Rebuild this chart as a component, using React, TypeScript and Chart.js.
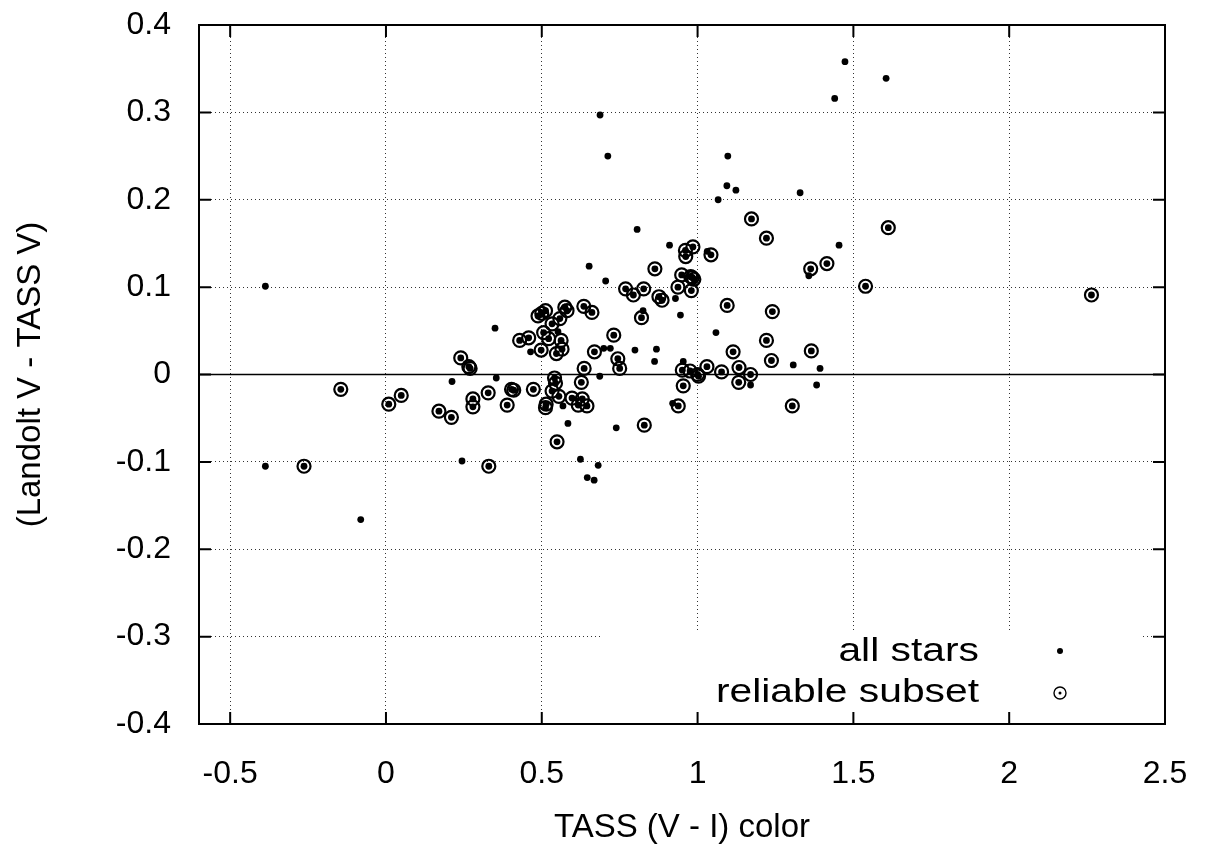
import React, { useEffect, useRef } from "react";
import { Chart, registerables } from "chart.js";

Chart.register(...registerables);

// ---- Data ----
// Stars that are NOT in the reliable subset (shown as dots only)
const otherX = [
  -0.387, -0.387, -0.081, 0.687, 0.712, 1.473, 1.44, 1.605, 1.097, 1.094,
  1.123, 1.066, 1.329, 0.806, 1.454, 0.91, 0.652, 0.705, 1.357, 0.825,
  0.929, 0.945, 1.059, 0.35, 0.464, 0.699, 0.72, 0.799, 0.868, 0.862,
  0.954, 1.307, 1.393, 0.686, 0.212, 0.354, 1.17, 1.382, 0.568, 0.92,
  0.584, 0.739, 0.244, 0.624, 0.681, 0.646, 0.668, 1.031, 0.552,
];
const otherY = [
  0.101, -0.105, -0.166, 0.297, 0.25, 0.358, 0.316, 0.339, 0.25, 0.216,
  0.211, 0.2, 0.208, 0.166, 0.148, 0.148, 0.124, 0.107, 0.113, 0.073,
  0.087, 0.068, 0.048, 0.053, 0.026, 0.03, 0.03, 0.028, 0.029, 0.015,
  0.015, 0.011, 0.007, -0.002, -0.008, -0.004, -0.012, -0.012, -0.036, -0.033,
  -0.056, -0.061, -0.099, -0.097, -0.104, -0.118, -0.121, 0.141, 0.049,
];

// Reliable subset (circled)
const reliableX = [
  -0.145, -0.263, 0.009, 0.049, 0.17, 0.21, 0.24, 0.266, 0.27, 0.279,
  0.279, 0.328, 0.33, 0.389, 0.403, 0.41, 0.429, 0.458, 0.473, 0.488,
  0.5, 0.512, 0.506, 0.498, 0.522, 0.533, 0.547, 0.558, 0.562, 0.565,
  0.574, 0.581, 0.635, 0.661, 0.541, 0.544, 0.533, 0.512, 0.514, 0.555,
  0.597, 0.617, 0.63, 0.645, 0.627, 0.636, 0.549, 0.669, 0.731, 0.744,
  0.75, 0.769, 0.794, 0.827, 0.876, 0.886, 0.82, 0.829, 0.937, 0.98,
  0.951, 0.976, 1.0, 1.003, 1.03, 1.077, 1.133, 1.132, 1.17, 1.237,
  0.954, 0.938, 1.304, 1.114, 1.221, 1.365, 1.095, 1.24, 0.863, 0.949,
  0.983, 0.988, 0.978, 0.962, 0.961, 0.985, 1.043, 1.173, 1.221, 1.363,
  1.415, 1.612, 1.539, 2.264,
];
const reliableY = [
  -0.017, -0.105, -0.034, -0.024, -0.042, -0.049, 0.019, 0.009, 0.007, -0.028,
  -0.037, -0.021, -0.105, -0.035, -0.017, -0.018, 0.039, 0.042, -0.017, 0.067,
  0.07, 0.073, 0.048, 0.028, 0.041, 0.058, 0.024, 0.064, 0.039, 0.029,
  0.077, 0.073, 0.078, 0.071, -0.004, -0.01, -0.019, -0.038, -0.034, -0.025,
  -0.027, -0.035, -0.028, -0.036, -0.009, 0.007, -0.077, 0.026, 0.045, 0.018,
  0.007, 0.098, 0.091, 0.098, 0.089, 0.085, 0.065, -0.058, 0.1, 0.096,
  0.005, 0.004, 0.0, -0.002, 0.009, 0.003, 0.008, -0.009, 0.0, 0.016,
  -0.013, -0.036, -0.036, 0.026, 0.039, 0.027, 0.079, 0.072, 0.121, 0.114,
  0.111, 0.109, 0.112, 0.135, 0.142, 0.146, 0.137, 0.178, 0.156, 0.121,
  0.127, 0.168, 0.101, 0.091,
];

const xTickValues = [-0.5, 0, 0.5, 1, 1.5, 2, 2.5];
const xTickLabels = ["-0.5", "0", "0.5", "1", "1.5", "2", "2.5"];
const yTickValues = [-0.4, -0.3, -0.2, -0.1, 0, 0.1, 0.2, 0.3, 0.4];
const yTickLabels = ["-0.4", "-0.3", "-0.2", "-0.1", "0", "0.1", "0.2", "0.3", "0.4"];

const seriesNames = ["all stars", "reliable subset"];
const xTitle = "TASS (V - I) color";
const yTitle = "(Landolt V - TASS V)";

const FONT = "'Liberation Sans', Arial, Helvetica, sans-serif";

const framePlugin = {
  id: "gnuplotFrame",
  beforeDatasetsDraw(chart: any) {
    const { ctx, chartArea } = chart;
    const { left, right } = chartArea;
    const ys = chart.scales.y;
    ctx.save();
    // key box (opaque)
    ctx.fillStyle = "#ffffff";
    ctx.fillRect(602, 630, 538, 82);
    // zero line
    const y0 = ys.getPixelForValue(0);
    ctx.strokeStyle = "#000";
    ctx.lineWidth = 1.5;
    ctx.beginPath();
    ctx.moveTo(left, y0);
    ctx.lineTo(right, y0);
    ctx.stroke();
    ctx.restore();
  },
  afterDraw(chart: any) {
    const { ctx, chartArea } = chart;
    const { left, right, top, bottom } = chartArea;
    const xs = chart.scales.x;
    const ys = chart.scales.y;
    ctx.save();
    ctx.strokeStyle = "#000";
    ctx.lineWidth = 2;
    const tl = 12;
    ctx.beginPath();
    xTickValues.forEach((v) => {
      const px = xs.getPixelForValue(v);
      ctx.moveTo(px, bottom);
      ctx.lineTo(px, bottom - tl);
      ctx.moveTo(px, top);
      ctx.lineTo(px, top + tl);
    });
    yTickValues.forEach((v) => {
      const py = ys.getPixelForValue(v);
      ctx.moveTo(left, py);
      ctx.lineTo(left + tl, py);
      ctx.moveTo(right, py);
      ctx.lineTo(right - tl, py);
    });
    ctx.stroke();
    ctx.strokeRect(left, top, right - left, bottom - top);

    // key
    ctx.fillStyle = "#000";
    ctx.font = `34px ${FONT}`;
    ctx.textAlign = "right";
    ctx.textBaseline = "middle";
    const sx = 1.2;
    ctx.save();
    ctx.translate(979, 0);
    ctx.scale(sx, 1);
    ctx.fillText(seriesNames[0], 0, 652);
    ctx.fillText(seriesNames[1], 0, 693);
    ctx.restore();
    ctx.beginPath();
    ctx.arc(1060, 651, 3, 0, Math.PI * 2);
    ctx.fill();
    ctx.lineWidth = 1.4;
    ctx.beginPath();
    ctx.arc(1060, 693, 6, 0, Math.PI * 2);
    ctx.stroke();
    ctx.beginPath();
    ctx.arc(1060, 693, 1.5, 0, Math.PI * 2);
    ctx.fill();
    ctx.restore();
  },
};

export default function App() {
  const ref = useRef<HTMLCanvasElement | null>(null);

  useEffect(() => {
    if (!ref.current) return;
    const allX = otherX.concat(reliableX);
    const allY = otherY.concat(reliableY);
    const allData = allX.map((x, i) => ({ x, y: allY[i] }));
    const relData = reliableX.map((x, i) => ({ x, y: reliableY[i] }));

    const chart = new Chart(ref.current, {
      type: "scatter",
      data: {
        datasets: [
          {
            label: seriesNames[1],
            data: relData,
            pointStyle: "circle",
            pointRadius: 6.5,
            pointBorderWidth: 2.2,
            pointBackgroundColor: "rgba(0,0,0,0)",
            pointBorderColor: "#000",
            showLine: false,
          },
          {
            label: seriesNames[0],
            data: allData,
            pointStyle: "circle",
            pointRadius: 3.4,
            pointBorderWidth: 0,
            pointBackgroundColor: "#000",
            pointBorderColor: "#000",
            showLine: false,
          },
        ],
      },
      options: {
        responsive: false,
        animation: false,
        devicePixelRatio: 1,
        layout: { padding: { top: 25, right: 46, left: 0, bottom: 0 } },
        plugins: {
          legend: { display: false },
          tooltip: { enabled: false },
        },
        scales: {
          x: {
            type: "linear",
            position: "bottom",
            min: -0.6,
            max: 2.5,
            afterBuildTicks: (s: any) => {
              s.ticks = xTickValues.map((v) => ({ value: v }));
            },
            afterFit: (s: any) => {
              s.height = 132;
              s.paddingLeft = 0;
              s.paddingRight = 0;
            },
            grid: {
              color: "#333",
              lineWidth: 1,
              drawTicks: false,
            },
            border: { display: false, dash: [1, 3] },
            ticks: {
              color: "#000",
              font: { family: FONT, size: 32 },
              padding: 31,
              maxRotation: 0,
              autoSkip: false,
              callback: (v: any) => {
                const i = xTickValues.findIndex((t) => Math.abs(t - v) < 1e-9);
                return i >= 0 ? xTickLabels[i] : "";
              },
            },
            title: {
              display: true,
              text: xTitle,
              color: "#000",
              font: { family: FONT, size: 33 },
              padding: { top: 0, bottom: 8 },
            },
          },
          y: {
            type: "linear",
            position: "left",
            min: -0.4,
            max: 0.4,
            afterBuildTicks: (s: any) => {
              s.ticks = yTickValues.map((v) => ({ value: v }));
            },
            afterFit: (s: any) => {
              s.width = 199;
              s.paddingTop = 0;
              s.paddingBottom = 0;
            },
            grid: {
              color: (c: any) =>
                c.tick && Math.abs(c.tick.value) < 1e-9 ? "rgba(0,0,0,0)" : "#333",
              lineWidth: 1,
              drawTicks: false,
            },
            border: { display: false, dash: [1, 3] },
            ticks: {
              color: "#000",
              font: { family: FONT, size: 32 },
              padding: 28,
              autoSkip: false,
              callback: (v: any) => {
                const i = yTickValues.findIndex((t) => Math.abs(t - v) < 1e-9);
                return i >= 0 ? yTickLabels[i] : "";
              },
            },
            title: {
              display: true,
              text: yTitle,
              color: "#000",
              font: { family: FONT, size: 33 },
              padding: { top: 11, bottom: 0 },
            },
          },
        },
      },
      plugins: [framePlugin],
    });
    return () => chart.destroy();
  }, []);

  return (
    <div style={{ position: "absolute", left: 0, top: 0, width: 1211, height: 856, background: "#fff" }}>
      <canvas ref={ref} width={1211} height={856} style={{ width: 1211, height: 856, display: "block" }} />
    </div>
  );
}
